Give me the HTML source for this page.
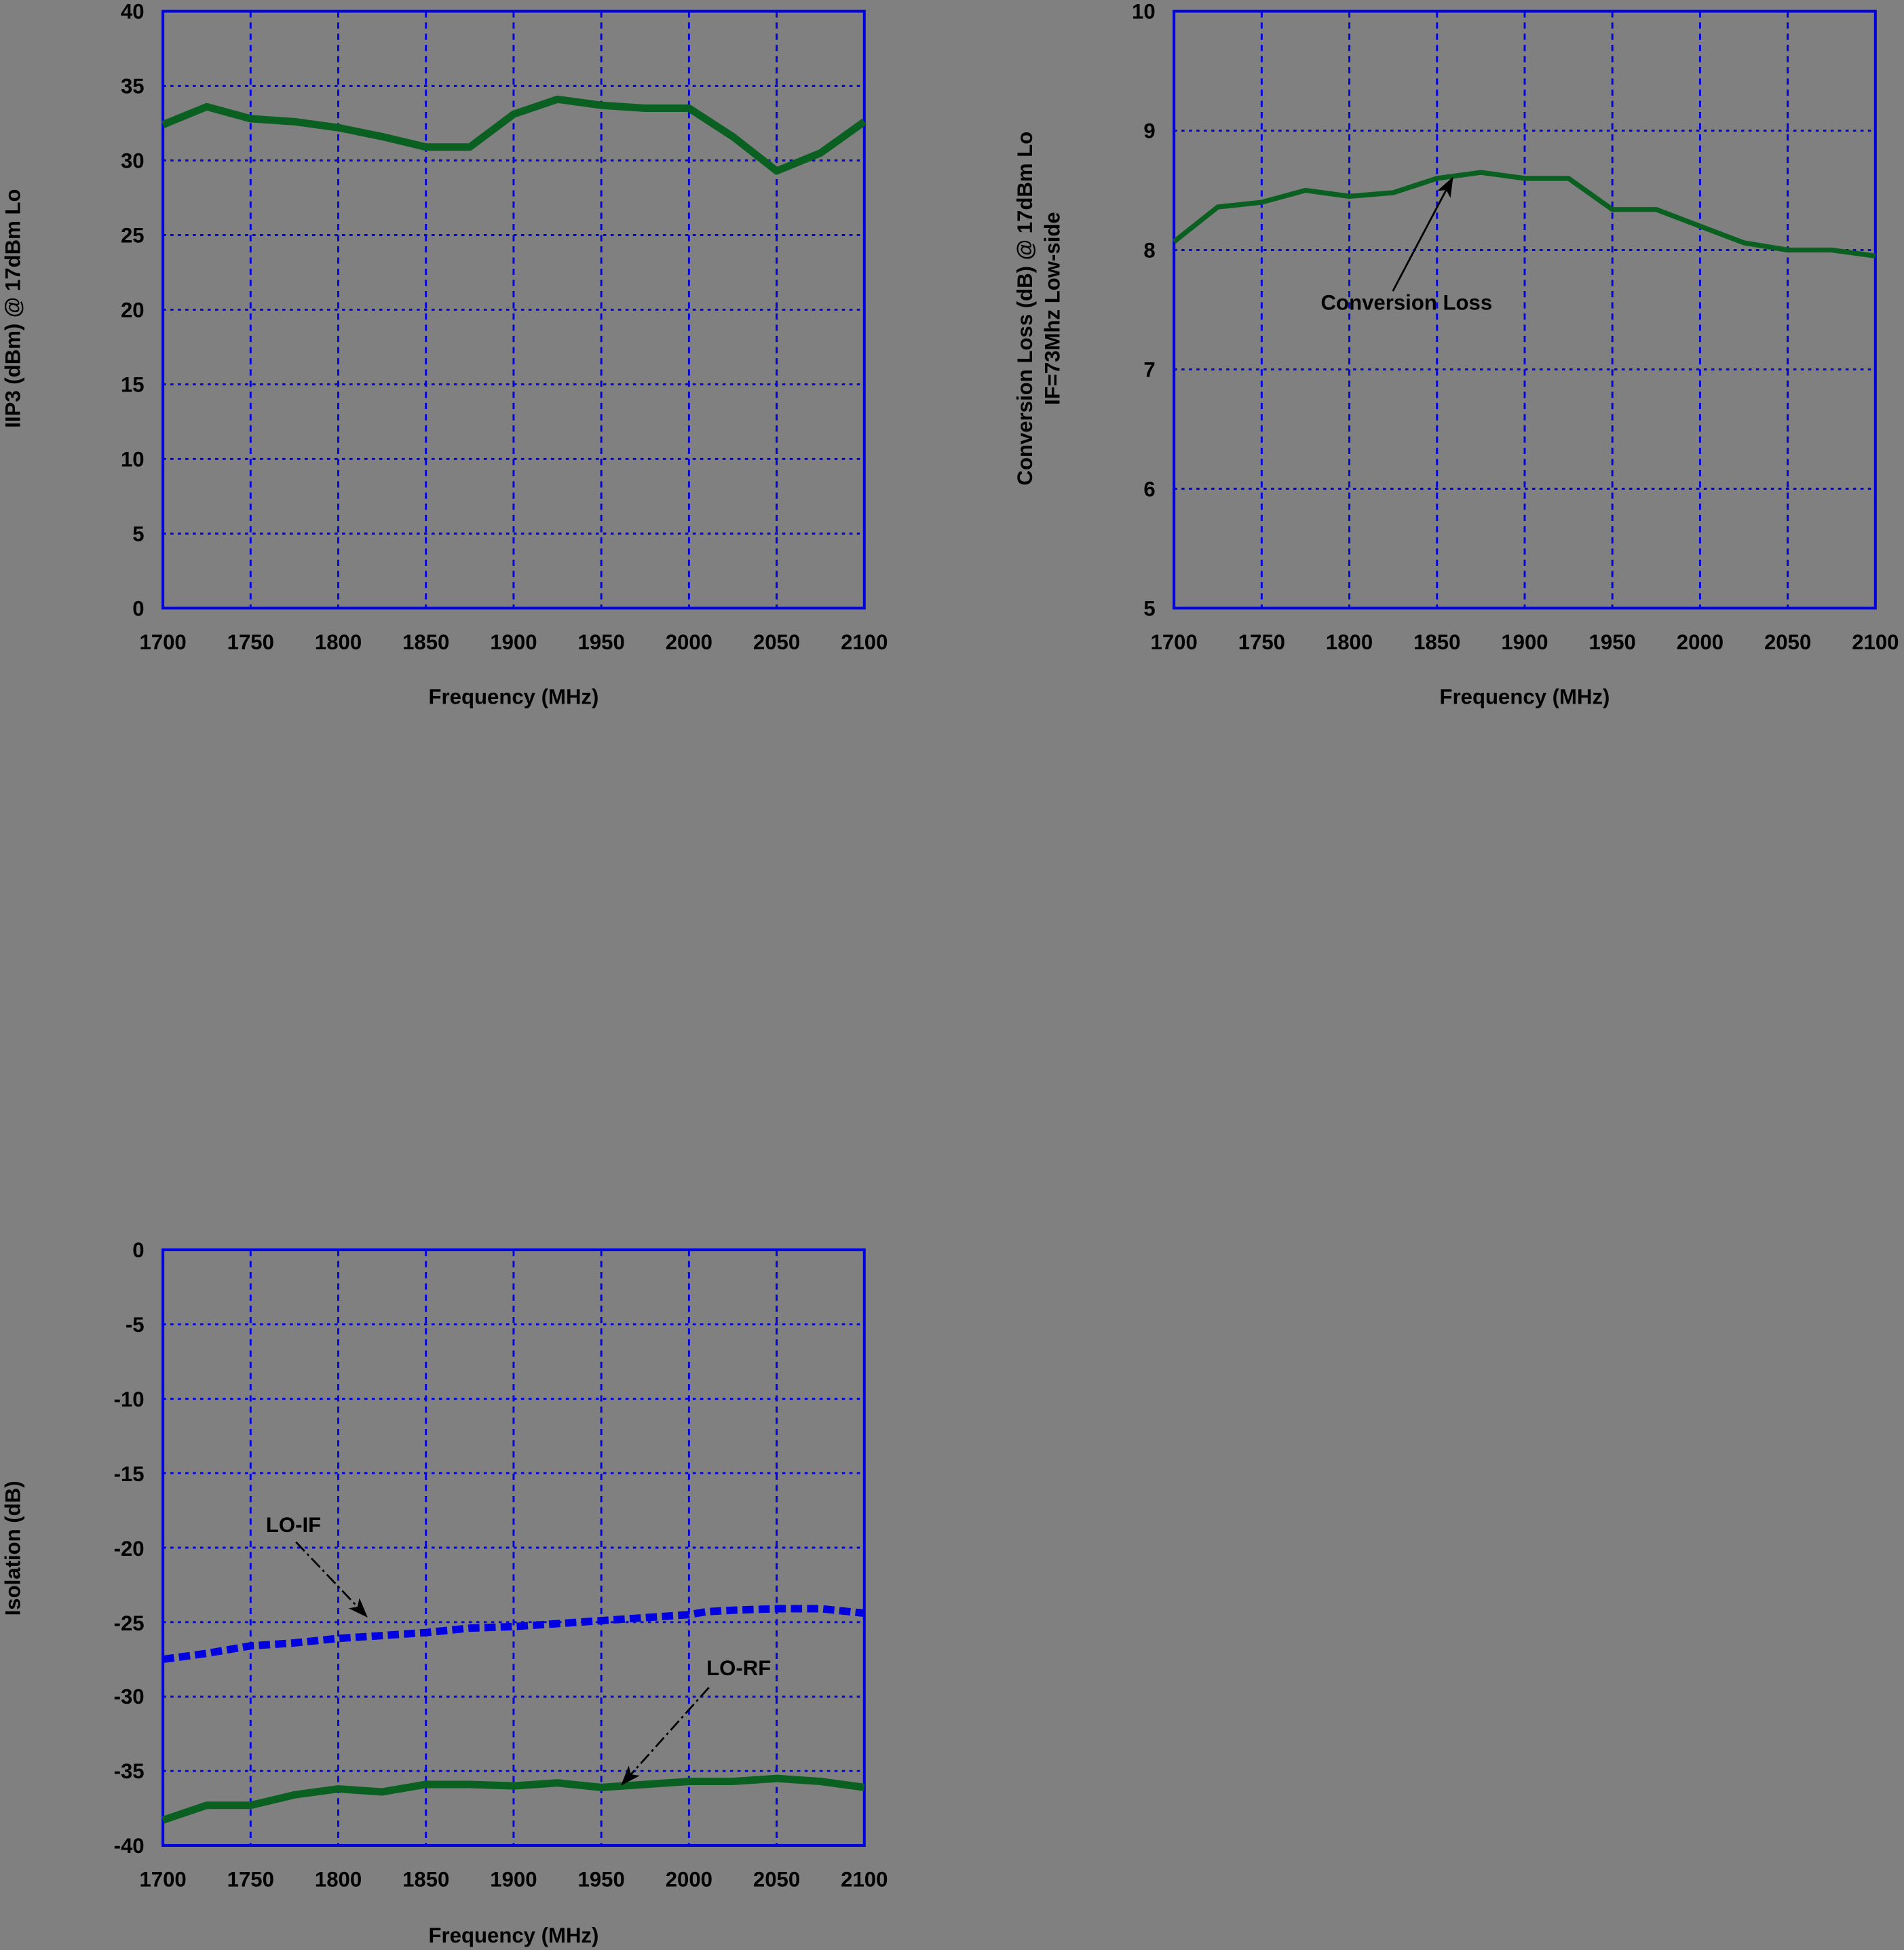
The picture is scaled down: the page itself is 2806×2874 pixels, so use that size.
<!DOCTYPE html>
<html><head><meta charset="utf-8"><style>
html,body{margin:0;padding:0;background:#808080;}
svg{display:block}
text{font-family:"Liberation Sans",Arial,sans-serif;font-weight:bold;fill:#000;font-size:17px}
.g{stroke:#0000e0;stroke-width:1.6;fill:none}
.h{stroke-dasharray:2.5 3.5}
.v{stroke-dasharray:5 4}
.ax{stroke:#0000e0;stroke-width:2.2;fill:none}
</style></head><body>
<svg width="2806" height="2874" viewBox="0 0 1531 1568" xmlns="http://www.w3.org/2000/svg">
<rect width="1531" height="1568" fill="#808080"/>
<defs>
<marker id="ar" markerWidth="16" markerHeight="12" refX="15" refY="6" orient="auto" markerUnits="userSpaceOnUse"><path d="M0,0 L16,6 L0,12 L4,6 z" fill="#000"/></marker>
</defs>

<!-- Plot 1 -->
<g>
<path class="g v" d="M201.5 9V489M272 9V489M342.5 9V489M413 9V489M483.5 9V489M554 9V489M624.5 9V489"/>
<path class="g h" d="M131 429H695M131 369H695M131 309H695M131 249H695M131 189H695M131 129H695M131 69H695"/>
<rect class="ax" x="131" y="9" width="564" height="480"/>
<polyline fill="none" stroke="#0a6020" stroke-width="6" stroke-linejoin="round" points="131,100.2 166.25,85.8 201.5,95.4 236.75,97.8 272,102.6 307.25,109.8 342.5,118.2 377.75,118.2 413,91.8 448.25,79.8 483.5,84.6 518.75,87 554,87 589.25,109.8 624.5,137.4 659.75,123 695,97.8"/>
<g text-anchor="end">
<text x="116" y="15">40</text><text x="116" y="75">35</text><text x="116" y="135">30</text><text x="116" y="195">25</text><text x="116" y="255">20</text><text x="116" y="315">15</text><text x="116" y="375">10</text><text x="116" y="435">5</text><text x="116" y="495">0</text>
</g>
<g text-anchor="middle">
<text x="131" y="522">1700</text><text x="201.5" y="522">1750</text><text x="272" y="522">1800</text><text x="342.5" y="522">1850</text><text x="413" y="522">1900</text><text x="483.5" y="522">1950</text><text x="554" y="522">2000</text><text x="624.5" y="522">2050</text><text x="695" y="522">2100</text>
<text x="413" y="566">Frequency (MHz)</text>
<text transform="translate(16,248) rotate(-90)">IIP3 (dBm) @ 17dBm Lo</text>
</g>
</g>

<!-- Plot 2 -->
<g>
<path class="g v" d="M1014.5 9V489M1085 9V489M1155.5 9V489M1226 9V489M1296.5 9V489M1367 9V489M1437.5 9V489"/>
<path class="g h" d="M944 393H1508M944 297H1508M944 201H1508M944 105H1508"/>
<rect class="ax" x="944" y="9" width="564" height="480"/>
<polyline fill="none" stroke="#0a6020" stroke-width="4" stroke-linejoin="round" points="944,194.3 979.25,166.4 1014.5,162.6 1049.75,153 1085,157.8 1120.25,154.9 1155.5,143.4 1190.75,138.6 1226,143.4 1261.25,143.4 1296.5,168.4 1331.75,168.4 1367,181.8 1402.25,195.2 1437.5,201 1472.75,201 1508,205.8"/>
<line x1="1120" y1="234" x2="1168" y2="143" stroke="#000" stroke-width="1.5" marker-end="url(#ar)"/>
<text x="1131" y="249" text-anchor="middle">Conversion Loss</text>
<g text-anchor="end">
<text x="929" y="15">10</text><text x="929" y="111">9</text><text x="929" y="207">8</text><text x="929" y="303">7</text><text x="929" y="399">6</text><text x="929" y="495">5</text>
</g>
<g text-anchor="middle">
<text x="944" y="522">1700</text><text x="1014.5" y="522">1750</text><text x="1085" y="522">1800</text><text x="1155.5" y="522">1850</text><text x="1226" y="522">1900</text><text x="1296.5" y="522">1950</text><text x="1367" y="522">2000</text><text x="1437.5" y="522">2050</text><text x="1508" y="522">2100</text>
<text x="1226" y="566">Frequency (MHz)</text>
<text transform="translate(830,248) rotate(-90)">Conversion Loss (dB) @ 17dBm Lo</text>
<text transform="translate(852,248) rotate(-90)">IF=73Mhz Low-side</text>
</g>
</g>

<!-- Plot 3 -->
<g>
<path class="g v" d="M201.5 1005V1484M272 1005V1484M342.5 1005V1484M413 1005V1484M483.5 1005V1484M554 1005V1484M624.5 1005V1484"/>
<path class="g h" d="M131 1064.9H695M131 1124.8H695M131 1184.6H695M131 1244.5H695M131 1304.4H695M131 1364.3H695M131 1424.1H695"/>
<rect class="ax" x="131" y="1005" width="564" height="479"/>
<polyline fill="none" stroke="#0000e0" stroke-width="6" stroke-dasharray="9 4" points="131,1334.3 166.25,1329.5 201.5,1323.5 236.75,1321.1 272,1317.5 307.25,1315.2 342.5,1312.8 377.75,1309.2 413,1308 448.25,1305.6 483.5,1303.2 518.75,1300.8 554,1298.4 568.1,1296 589.25,1294.8 624.5,1293.6 659.75,1293.6 695,1297.2"/>
<polyline fill="none" stroke="#0a6020" stroke-width="6" stroke-linejoin="round" points="131,1463.6 166.25,1451.7 201.5,1451.7 236.75,1443.3 272,1438.5 307.25,1440.9 342.5,1434.9 377.75,1434.9 413,1436.1 448.25,1433.7 483.5,1437.3 518.75,1434.9 554,1432.5 589.25,1432.5 624.5,1430.1 659.75,1432.5 695,1437.3"/>
<line x1="238" y1="1240" x2="295" y2="1300" stroke="#000" stroke-width="1.5" stroke-dasharray="10 3 2 3" marker-end="url(#ar)"/>
<line x1="570" y1="1357" x2="500" y2="1435" stroke="#000" stroke-width="1.5" stroke-dasharray="10 3 2 3" marker-end="url(#ar)"/>
<text x="236" y="1232" text-anchor="middle">LO-IF</text>
<text x="594" y="1347" text-anchor="middle">LO-RF</text>
<g text-anchor="end">
<text x="116" y="1011">0</text><text x="116" y="1071">-5</text><text x="116" y="1131">-10</text><text x="116" y="1191">-15</text><text x="116" y="1251">-20</text><text x="116" y="1311">-25</text><text x="116" y="1370">-30</text><text x="116" y="1430">-35</text><text x="116" y="1490">-40</text>
</g>
<g text-anchor="middle">
<text x="131" y="1517">1700</text><text x="201.5" y="1517">1750</text><text x="272" y="1517">1800</text><text x="342.5" y="1517">1850</text><text x="413" y="1517">1900</text><text x="483.5" y="1517">1950</text><text x="554" y="1517">2000</text><text x="624.5" y="1517">2050</text><text x="695" y="1517">2100</text>
<text x="413" y="1562">Frequency (MHz)</text>
<text transform="translate(16,1245) rotate(-90)">Isolation (dB)</text>
</g>
</g>
</svg>
</body></html>
